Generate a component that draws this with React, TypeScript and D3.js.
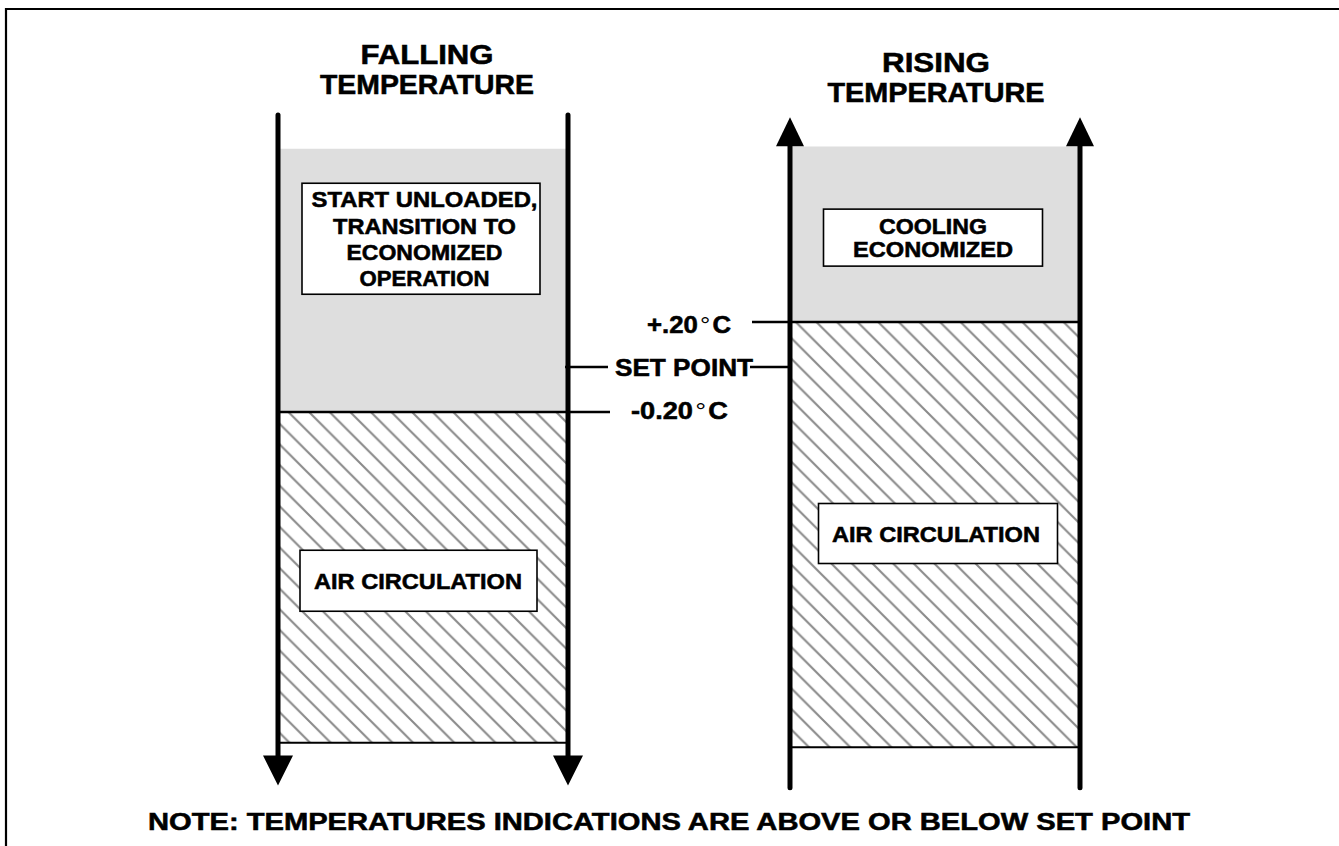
import React from "react";
import * as d3 from "d3";

// ---- data ----
const panelKeys = ["falling", "rising"];
const panelTitles = [["FALLING", "TEMPERATURE"], ["RISING", "TEMPERATURE"]];
// arrow direction of the temperature axis
const panelDirections = ["down", "up"];
// zone limits in °C relative to set point
const grayTops = [0.97, 0.98];
const boundaries = [-0.2, 0.2];
const bottoms = [-1.67, -1.69];
// vertical axis line extents (°C)
const axisTops = [1.12, 1.11];
const axisBottoms = [-1.86, -1.87];
// zone labels
const upperLabels = [["START UNLOADED,", "TRANSITION TO", "ECONOMIZED", "OPERATION"], ["COOLING", "ECONOMIZED"]];
const upperLabelCenters = [0.57, 0.575];
const lowerLabels = [["AIR CIRCULATION"], ["AIR CIRCULATION"]];
const lowerLabelCenters = [-0.95, -0.74];
// scale tick labels
const tickValues = [0.2, 0, -0.2];
const tickLabels = ["+.20°C", "SET POINT", "-0.20°C"];
const noteText = "NOTE: TEMPERATURES INDICATIONS ARE ABOVE OR BELOW SET POINT";

// ---- styles (rendered widths of the reference lettering) ----
const W = 1339;
const H = 846;
const FONT = "'Liberation Sans', Arial, Helvetica, sans-serif";
const titleWidths = [[133, 214], [108, 217]];
const upperWidths = [[226, 183, 156, 130], [108, 160]];
const lowerWidths = [208, 208];
const tickWidths = [84, 138, 97];
const tickX = [689, 684, 679.5];
const tickDy = [11, 8.5, 6.5];
const TEXT_STROKE = 0.55;

export default function App() {
  const y = d3.scaleLinear().domain([-0.2, 0.2]).range([412, 322]);
  const x = d3.scaleBand<string>().domain(panelKeys).range([278, 1080]).paddingInner(0.4336).paddingOuter(0);
  const bw = x.bandwidth();

  const lineH = [26.2, 23.4];
  const boxW = [[238, 237], [219, 239]];
  const boxH = [[111, 61], [57, 60]];
  const boxDx = [[-2, -4.5], [-2, 3]];
  const textDx = [[1.5, -5], [-2, 1]];

  const txt = { fontFamily: FONT, fontWeight: "bold" as const, stroke: "#000", strokeWidth: TEXT_STROKE };

  return (
    <svg width={W} height={H} style={{ display: "block", position: "absolute", left: 0, top: 0 }}>
      <defs>
        <pattern id="hatch" patternUnits="userSpaceOnUse" width={20.6} height={20.6} x={0} y={0}>
          <path
            d={`M-2,-2 L22.6,22.6 M18.6,-2 L22.6,2 M-2,18.6 L2,22.6`}
            stroke="#8a8a8a"
            strokeWidth={2.1}
            fill="none"
          />
        </pattern>
      </defs>
      <rect x={0} y={0} width={W} height={H} fill="#fff" />
      {/* frame */}
      <path d={`M6,${H} L6,9 L${W},9`} fill="none" stroke="#000" strokeWidth={2.2} />

      {panelKeys.map((k, i) => {
        const x0 = x(k)!;
        const x1 = x0 + bw;
        const cx = x0 + bw / 2;
        const gTop = y(grayTops[i]);
        const bnd = y(boundaries[i]);
        const bot = y(bottoms[i]);
        const aTop = y(axisTops[i]);
        const aBot = y(axisBottoms[i]);
        const down = panelDirections[i] === "down";
        const lines = upperLabels[i];
        const uc = y(upperLabelCenters[i]);
        const lc = y(lowerLabelCenters[i]);
        const lh = lineH[i];
        const titleCx = cx + (down ? 4 : 1);
        return (
          <g key={k}>
            {panelTitles[i].map((t, j) => (
              <text
                key={j}
                x={titleCx}
                y={(down ? 64.3 : 72) + j * 30}
                textAnchor="middle"
                {...txt}
                fontSize={27.5}
                textLength={titleWidths[i][j]}
                lengthAdjust="spacingAndGlyphs"
              >
                {t}
              </text>
            ))}
            <rect x={x0} y={gTop} width={bw} height={bnd - gTop} fill="#dedede" />
            <rect x={x0} y={bnd} width={bw} height={bot - bnd} fill="url(#hatch)" />
            <line x1={x0} x2={x1} y1={bot} y2={bot} stroke="#000" strokeWidth={2} />
            <line x1={x0} x2={x1} y1={bnd} y2={bnd} stroke="#000" strokeWidth={2.6} />
            {/* upper box */}
            <rect
              x={cx + boxDx[i][0] - boxW[i][0] / 2}
              y={uc - boxH[i][0] / 2}
              width={boxW[i][0]}
              height={boxH[i][0]}
              fill="#fff"
              stroke="#000"
              strokeWidth={1.6}
            />
            {lines.map((t, j) => (
              <text
                key={j}
                x={cx + textDx[i][0]}
                y={uc + (j - (lines.length - 1) / 2) * lh + 8}
                textAnchor="middle"
                {...txt}
                fontSize={22}
                textLength={upperWidths[i][j]}
                lengthAdjust="spacingAndGlyphs"
              >
                {t}
              </text>
            ))}
            {/* lower box */}
            <rect
              x={cx + boxDx[i][1] - boxW[i][1] / 2}
              y={lc - boxH[i][1] / 2}
              width={boxW[i][1]}
              height={boxH[i][1]}
              fill="#fff"
              stroke="#000"
              strokeWidth={1.6}
            />
            {lowerLabels[i].map((t, j) => (
              <text
                key={j}
                x={cx + textDx[i][1]}
                y={lc + 8}
                textAnchor="middle"
                {...txt}
                fontSize={22.5}
                textLength={lowerWidths[i]}
                lengthAdjust="spacingAndGlyphs"
              >
                {t}
              </text>
            ))}
            {/* axis lines with arrows */}
            {[x0, x1].map((lx, j) => (
              <g key={j}>
                <line
                  x1={lx}
                  x2={lx}
                  y1={down ? aTop : aTop + 20}
                  y2={down ? aBot - 20 : aBot}
                  stroke="#000"
                  strokeWidth={5}
                  strokeLinecap="round"
                />
                {down ? (
                  <path d={`M${lx - 15},${aBot - 30} L${lx + 15},${aBot - 30} L${lx},${aBot} Z`} fill="#000" />
                ) : (
                  <path d={`M${lx - 14},${aTop + 29} L${lx + 14},${aTop + 29} L${lx},${aTop} Z`} fill="#000" />
                )}
              </g>
            ))}
          </g>
        );
      })}

      {/* middle scale labels */}
      {(() => {
        const lx = x(panelKeys[0])! + bw;
        const rx = x(panelKeys[1])!;
        return tickValues.map((v, i) => {
          const yy = y(v);
          const label = tickLabels[i];
          const parts = label.split("°");
          return (
            <g key={i}>
              {i === 0 && <line x1={752} x2={rx} y1={yy} y2={yy} stroke="#000" strokeWidth={2.6} />}
              {i === 1 && (
                <>
                  <line x1={lx - 3} x2={608} y1={yy} y2={yy} stroke="#000" strokeWidth={2.6} />
                  <line x1={750} x2={rx} y1={yy} y2={yy} stroke="#000" strokeWidth={2.6} />
                </>
              )}
              {i === 2 && <line x1={lx} x2={610} y1={yy} y2={yy} stroke="#000" strokeWidth={2.6} />}
              <text
                x={tickX[i]}
                y={yy + tickDy[i]}
                textAnchor="middle"
                {...txt}
                fontSize={24}
                textLength={tickWidths[i]}
                lengthAdjust="spacingAndGlyphs"
              >
                {parts.length > 1 ? (
                  <>
                    {parts[0]}
                    <tspan dx={2} fontWeight="normal" strokeWidth={0}>°</tspan>
                    <tspan dx={2}>{parts[1]}</tspan>
                  </>
                ) : (
                  label
                )}
              </text>
            </g>
          );
        });
      })()}

      <text
        x={669}
        y={830}
        textAnchor="middle"
        {...txt}
        fontSize={24}
        textLength={1042}
        lengthAdjust="spacingAndGlyphs"
      >
        {noteText}
      </text>
    </svg>
  );
}
